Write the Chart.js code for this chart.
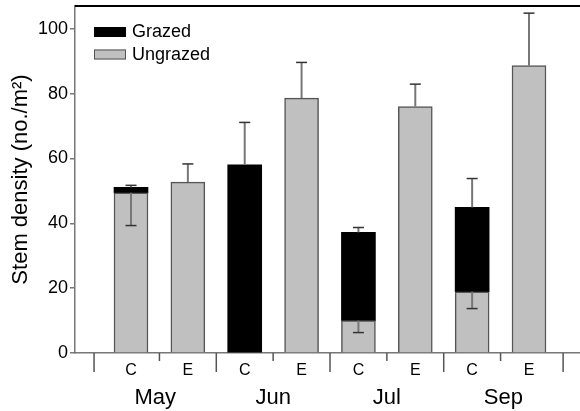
<!DOCTYPE html>
<html>
<head>
<meta charset="utf-8">
<script src="https://cdn.jsdelivr.net/npm/chart.js@4.4.1/dist/chart.umd.min.js"></script>
<style>
  html, body { margin: 0; padding: 0; background: #fff; overflow: hidden; }
</style>
</head>
<body>
<canvas id="chart" width="580" height="411"></canvas>
<script>
// Data
const months = ['May', 'Jun', 'Jul', 'Sep'];
const treatments = ['C', 'E', 'C', 'E', 'C', 'E', 'C', 'E'];
const ungrazed = [49.4, 52.7, null, 78.6, 10.0, 76.0, 18.9, 88.6];
const grazed = [1.7, null, 58.0, null, 27.2, null, 26.0, null];
const errUpper = [0.6, 5.6, 13.1, 11.0, 1.5, 6.9, 8.9, 16.2];
const errLower = [10.1, null, null, null, 3.7, null, 5.2, null];
const yTicks = [0, 20, 40, 60, 80, 100];

const FONT = "'Liberation Sans', Arial, Helvetica, sans-serif";
Chart.defaults.font.family = FONT;
Chart.defaults.color = '#000';

const toPoints = arr => arr.map((v, i) => ({ x: i, y: v }));

// error bars, legend, x labels, frame
const extras = {
    id: 'extras',
    afterDatasetsDraw(chart) {
        const { ctx, scales: { x, y } } = chart;
        ctx.save();
        const cap = 5.5;
        const bar = (px, from, to) => {
            const y0 = y.getPixelForValue(from), y1 = y.getPixelForValue(to);
            ctx.strokeStyle = '#777';
            ctx.lineWidth = 2;
            ctx.beginPath(); ctx.moveTo(px, y0); ctx.lineTo(px, y1); ctx.stroke();
            ctx.strokeStyle = '#333';
            ctx.lineWidth = 1.5;
            ctx.beginPath(); ctx.moveTo(px - cap, y1); ctx.lineTo(px + cap, y1); ctx.stroke();
        };
        treatments.forEach((t, i) => {
            const px = x.getPixelForValue(i);
            const top = (ungrazed[i] || 0) + (grazed[i] || 0);
            if (errUpper[i] != null) bar(px, top, top + errUpper[i]);
            if (errLower[i] != null) bar(px, ungrazed[i], ungrazed[i] - errLower[i]);
        });
        ctx.restore();
    },
    afterDraw(chart) {
        const { ctx, chartArea: a, scales: { x } } = chart;
        ctx.save();

        // top frame line
        ctx.strokeStyle = '#000';
        ctx.lineWidth = 2;
        ctx.beginPath(); ctx.moveTo(a.left, a.top); ctx.lineTo(a.right, a.top); ctx.stroke();

        // legend
        chart.data.datasets.slice().reverse().forEach((ds, k) => {
            const bx = a.left + 19, by = a.top + 21 + k * 22.5;
            ctx.fillStyle = ds.backgroundColor;
            ctx.fillRect(bx, by, 32, 10);
            ctx.strokeStyle = ds.borderColor;
            ctx.lineWidth = 1;
            ctx.strokeRect(bx + 0.5, by + 0.5, 31, 9);
            ctx.fillStyle = '#000';
            ctx.font = '18px ' + FONT;
            ctx.textAlign = 'left';
            ctx.textBaseline = 'middle';
            ctx.fillText(ds.label, bx + 38, by + 5.5);
        });

        // category tick marks under the axis
        const bounds = [-0.65];
        months.forEach((m, j) => bounds.push(j < months.length - 1 ? 2 * j + 1.5 : 2 * j + 1.6));
        ctx.strokeStyle = '#555';
        ctx.lineWidth = 1.5;
        bounds.forEach(b => {
            const px = x.getPixelForValue(b);
            ctx.beginPath(); ctx.moveTo(px, a.bottom); ctx.lineTo(px, a.bottom + 19); ctx.stroke();
        });
        months.forEach((m, j) => {
            const px = x.getPixelForValue(2 * j + 0.5);
            ctx.beginPath(); ctx.moveTo(px, a.bottom); ctx.lineTo(px, a.bottom + 8); ctx.stroke();
        });

        // C / E labels
        ctx.fillStyle = '#000';
        ctx.textAlign = 'center';
        ctx.textBaseline = 'middle';
        ctx.font = '16px ' + FONT;
        treatments.forEach((t, i) => ctx.fillText(t, x.getPixelForValue(i), a.bottom + 18));

        // month labels
        ctx.font = '22px ' + FONT;
        months.forEach((m, j) => {
            const px = (x.getPixelForValue(bounds[j]) + x.getPixelForValue(bounds[j + 1])) / 2;
            ctx.fillText(m, px, a.bottom + 45);
        });
        ctx.restore();
    }
};

new Chart(document.getElementById('chart'), {
    type: 'bar',
    data: {
        datasets: [{
            label: 'Ungrazed',
            data: toPoints(ungrazed),
            backgroundColor: '#c0c0c0',
            borderColor: '#555',
            borderWidth: 1.5,
            stack: 's'
        }, {
            label: 'Grazed',
            data: toPoints(grazed),
            backgroundColor: '#000',
            borderColor: '#000',
            borderWidth: 0,
            stack: 's'
        }]
    },
    options: {
        responsive: false,
        animation: false,
        barThickness: 34,
        layout: { padding: { top: 6, left: 0, right: 0, bottom: 0 } },
        plugins: { legend: { display: false }, tooltip: { enabled: false } },
        scales: {
            x: {
                type: 'linear',
                offset: false,
                min: -0.985,
                max: 7.897,
                ticks: { display: false },
                grid: { display: false },
                border: { display: true, color: '#777', width: 1.5 },
                afterFit: s => { s.height = 58; s.paddingLeft = 0; s.paddingRight = 0; }
            },
            y: {
                stacked: true,
                min: 0,
                max: 107,
                afterBuildTicks: s => { s.ticks = yTicks.map(v => ({ value: v })); },
                ticks: { font: { size: 18 }, padding: 2, color: '#000' },
                grid: { drawOnChartArea: false, drawTicks: true, tickLength: 5, color: '#777', lineWidth: 1.5 },
                border: { display: true, color: '#777', width: 1.5 },
                title: { display: true, text: 'Stem density (no./m²)', font: { size: 22 }, padding: { top: 8, bottom: 0 } },
                afterFit: s => { s.width = 75; s.paddingTop = 0; s.paddingBottom = 0; }
            }
        }
    },
    plugins: [extras]
});
</script>
</body>
</html>
